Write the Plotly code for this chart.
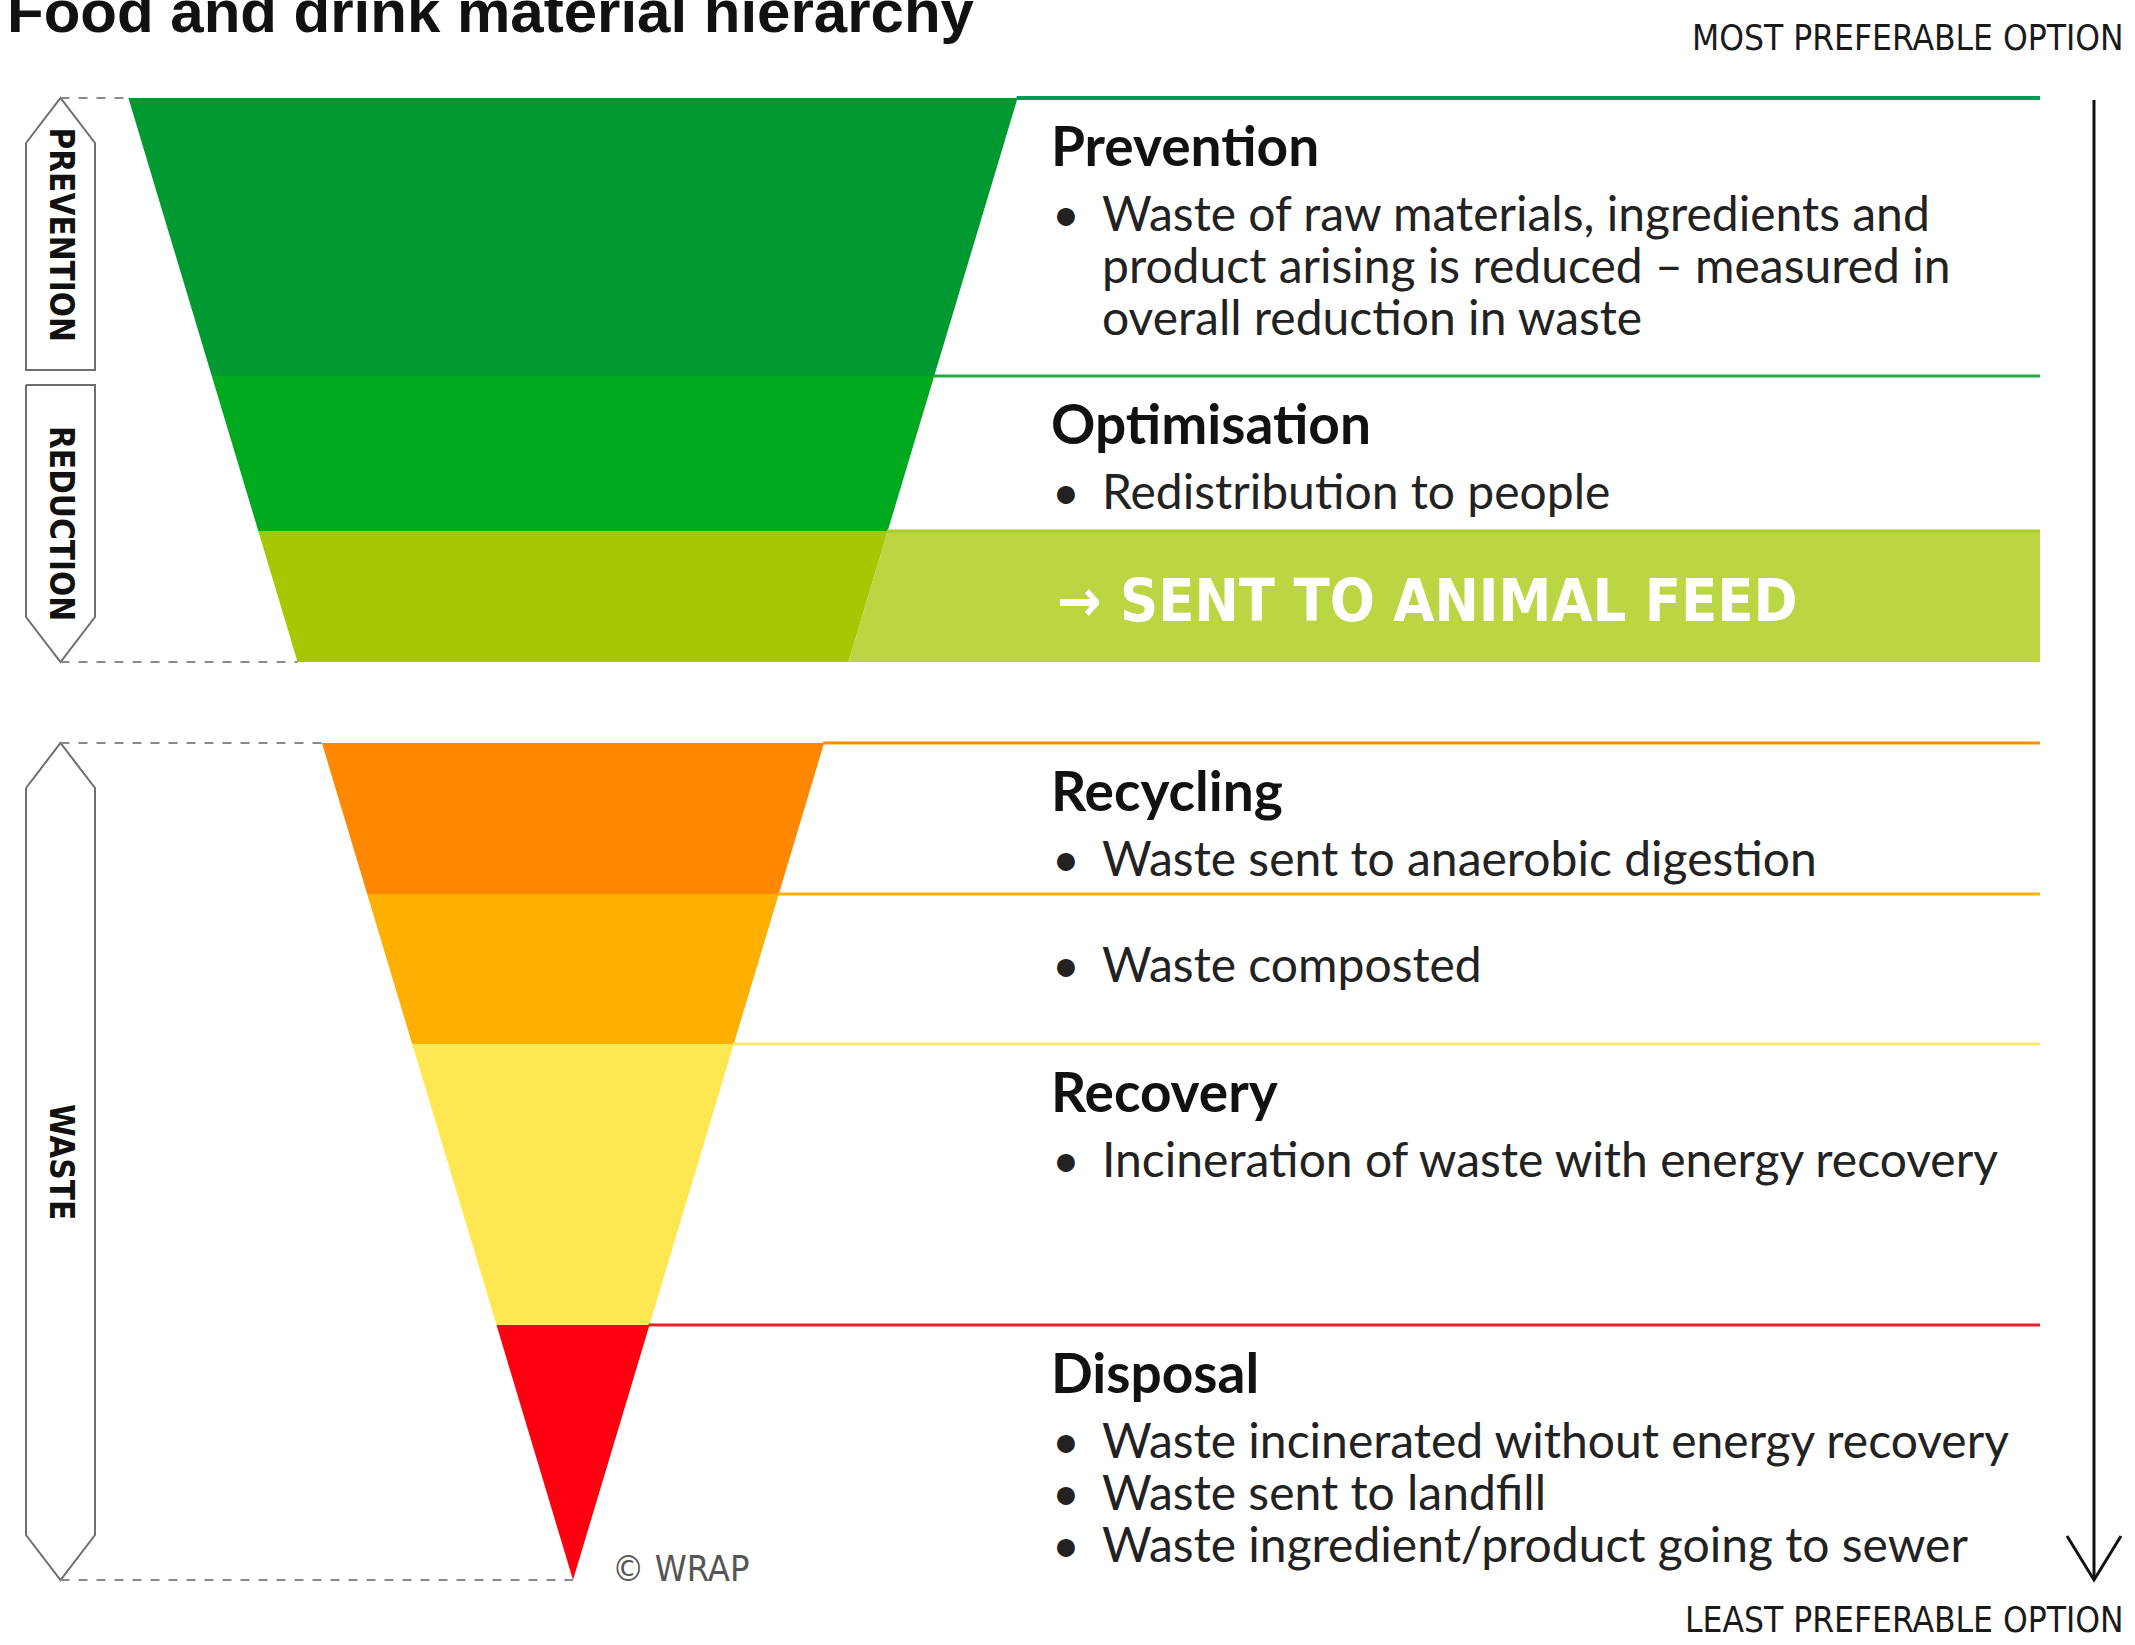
import plotly.graph_objects as go

W, H = 2135, 1645

# ---------------- data ----------------
TITLE = "Food and drink material hierarchy"
TOP_LABEL = "MOST PREFERABLE OPTION"
BOTTOM_LABEL = "LEAST PREFERABLE OPTION"
CREDIT = "© WRAP"
FEED_LABEL = "→ SENT TO ANIMAL FEED"

tiers = ["Prevention", "Optimisation", "Animal feed", "Recycling", "Composting", "Recovery", "Disposal"]
tier_top = [98, 376, 531, 743, 894, 1044, 1325]
tier_bottom = [376, 531, 662, 894, 1044, 1325, 1580]
tier_colors = ["#019A32", "#00AA1E", "#A5C800", "#FF8800", "#FFAF00", "#FFE752", "#FF0010"]
line_colors = ["#009A55", "#1FA844", "#A9CC30", "#FF8A00", "#FFB000", "#FFE968", "#E8202C"]

headings = ["Prevention", "Optimisation", None, "Recycling", None, "Recovery", "Disposal"]
bullets = [
    [["Waste of raw materials, ingredients and",
      "product arising is reduced – measured in",
      "overall reduction in waste"]],
    [["Redistribution to people"]],
    [],
    [["Waste sent to anaerobic digestion"]],
    [["Waste composted"]],
    [["Incineration of waste with energy recovery"]],
    [["Waste incinerated without energy recovery"],
     ["Waste sent to landfill"],
     ["Waste ingredient/product going to sewer"]],
]

groups = ["PREVENTION", "REDUCTION", "WASTE"]
group_top = [98, 385, 743]
group_bottom = [370, 662, 1580]
group_top_pointed = [True, False, True]
group_bottom_pointed = [False, True, True]

# ---------------- geometry helpers ----------------
APEX_X, APEX_Y, SLOPE = 573, 1580, 0.30
RIGHT_END = 2040


def half_w(y):
    return SLOPE * (APEX_Y - y)


fig = go.Figure()

# funnel layers
for i, name in enumerate(tiers):
    t, b = tier_top[i], tier_bottom[i]
    xs = [APEX_X - half_w(t), APEX_X + half_w(t), APEX_X + half_w(b), APEX_X - half_w(b), APEX_X - half_w(t)]
    ys = [t, t, b, b, t]
    fig.add_trace(go.Scatter(x=xs, y=ys, fill="toself", fillcolor=tier_colors[i],
                             line=dict(width=0, color=tier_colors[i]), mode="lines",
                             hoverinfo="skip", showlegend=False))

# animal-feed band extending to the right
i = tiers.index("Animal feed")
t, b = tier_top[i], tier_bottom[i]
fig.add_trace(go.Scatter(
    x=[APEX_X + half_w(t), RIGHT_END, RIGHT_END, APEX_X + half_w(b), APEX_X + half_w(t)],
    y=[t, t, b, b, t], fill="toself", fillcolor="#BAD643",
    line=dict(width=0, color="#BAD643"), mode="lines", hoverinfo="skip", showlegend=False))

# separator lines
for i, name in enumerate(tiers):
    t = tier_top[i]
    fig.add_trace(go.Scatter(x=[APEX_X + half_w(t) - 1, RIGHT_END], y=[t, t], mode="lines",
                             line=dict(color=line_colors[i], width=4 if i == 0 else 3),
                             hoverinfo="skip", showlegend=False))

# group boxes on the left
BX0, BX1 = 26, 95
BXC = (BX0 + BX1) / 2
POINT = 45
cond = "Liberation Sans Narrow, DejaVu Sans Condensed, sans-serif"
for g, name in enumerate(groups):
    t, b = group_top[g], group_bottom[g]
    xs, ys = [], []
    if group_top_pointed[g]:
        xs += [BX0, BXC, BX1]
        ys += [t + POINT, t, t + POINT]
    else:
        xs += [BX0, BX1]
        ys += [t, t]
    if group_bottom_pointed[g]:
        xs += [BX1, BXC, BX0]
        ys += [b - POINT, b, b - POINT]
    else:
        xs += [BX1, BX0]
        ys += [b, b]
    xs.append(xs[0])
    ys.append(ys[0])
    fig.add_trace(go.Scatter(x=xs, y=ys, mode="lines", line=dict(color="#6E6E6E", width=2),
                             hoverinfo="skip", showlegend=False))
    fig.add_annotation(x=BXC + 1, y=(t + b) / 2, text=name, textangle=90, showarrow=False,
                       xref="x", yref="y",
                       font=dict(family=cond, size=33, color="#111111", weight="bold"))

# dashed guide lines from the boxes to the funnel
for y in [98, 662, 743, 1580]:
    fig.add_trace(go.Scatter(x=[BXC, APEX_X - half_w(y)], y=[y, y], mode="lines",
                             line=dict(color="#8A8A8A", width=2, dash="dash"),
                             hoverinfo="skip", showlegend=False))

# right-hand arrow
AX = 2094
fig.add_trace(go.Scatter(x=[AX, AX], y=[100, 1578], mode="lines",
                         line=dict(color="#111111", width=3), hoverinfo="skip", showlegend=False))
fig.add_trace(go.Scatter(x=[AX - 27, AX, AX + 27], y=[1536, 1580, 1536], mode="lines",
                         line=dict(color="#111111", width=3), hoverinfo="skip", showlegend=False))

# ---------------- text ----------------
HEAD_X, BULLET_X, TEXT_X = 1049, 1050, 1100
body_font = dict(family="Lato, Open Sans, sans-serif", size=48, color="#222222")
head_font = dict(family="Lato, Open Sans, sans-serif", size=55, color="#111111", weight="bold")

for i, name in enumerate(tiers):
    t = tier_top[i]
    if headings[i]:
        fig.add_annotation(x=HEAD_X, y=t + 47, text=headings[i], showarrow=False,
                           xanchor="left", yanchor="middle", font=head_font)
        y = t + 47 + 67
    else:
        y = t + 69
    for bl in bullets[i]:
        fig.add_annotation(x=BULLET_X, y=y, text="•", showarrow=False,
                           xanchor="left", yanchor="middle", font=body_font)
        for line in bl:
            fig.add_annotation(x=TEXT_X, y=y, text=line, showarrow=False,
                               xanchor="left", yanchor="middle", font=body_font)
            y += 52

i = tiers.index("Animal feed")
fig.add_annotation(x=1055, y=(tier_top[i] + tier_bottom[i]) / 2 + 4, text=FEED_LABEL, showarrow=False,
                   xanchor="left", yanchor="middle",
                   font=dict(family=cond, size=59, color="#FFFFFF", weight="bold"))

fig.add_annotation(x=5, y=11, text=TITLE, showarrow=False, xanchor="left", yanchor="middle",
                   font=dict(family="Liberation Sans, Arial, sans-serif", size=60,
                             color="#111111", weight="bold"))
fig.add_annotation(x=2126, y=38, text=TOP_LABEL, showarrow=False, xanchor="right", yanchor="middle",
                   font=dict(family=cond, size=35, color="#1A1A1A"))
fig.add_annotation(x=2126, y=1620, text=BOTTOM_LABEL, showarrow=False, xanchor="right",
                   yanchor="middle", font=dict(family=cond, size=35, color="#1A1A1A"))
fig.add_annotation(x=610, y=1568, text=CREDIT, showarrow=False, xanchor="left", yanchor="middle",
                   font=dict(family=cond, size=36, color="#555555"))

fig.update_layout(
    width=W, height=H, margin=dict(l=0, r=0, t=0, b=0),
    paper_bgcolor="white", plot_bgcolor="white", showlegend=False,
    xaxis=dict(range=[0, W], visible=False, fixedrange=True),
    yaxis=dict(range=[H, 0], visible=False, fixedrange=True),
)
fig.write_html("out.html", config={"displayModeBar": False},
               post_script="document.body.style.margin='0';")
